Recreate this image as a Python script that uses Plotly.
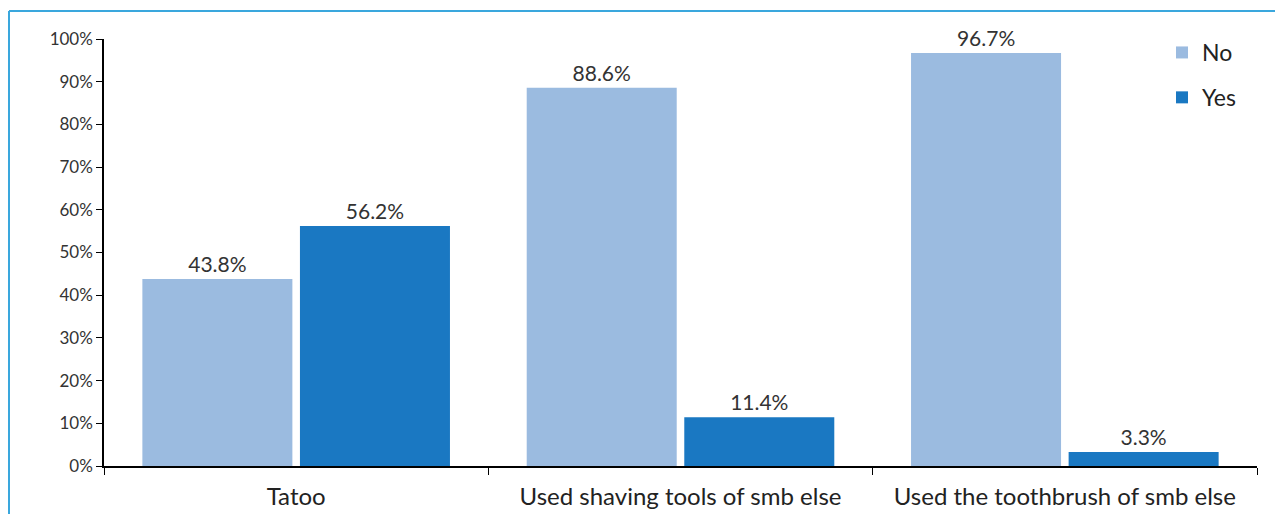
import plotly.graph_objects as go

categories = ["Tatoo", "Used shaving tools of smb else", "Used the toothbrush of smb else"]
no_values = [43.8, 88.6, 96.7]
yes_values = [56.2, 11.4, 3.3]
tick_vals = [0, 10, 20, 30, 40, 50, 60, 70, 80, 90, 100]
tick_text = [f"{v}%" for v in tick_vals]

FONT = "Lato, Open Sans, sans-serif"
OFF = 8  # page body margin
W, H = 1283 - 2 * OFF, 522 - 2 * OFF
# page-pixel positions of the plot area
PL, PR, PT, PB = 104, 1257, 39, 466
ML, MT = PL - OFF, PT - OFF
MR = W - (PR - OFF)
MB = H - (PB - OFF)
PW, PH = W - ML - MR, H - MT - MB

def px_x(px):
    return (px - OFF - ML) / PW

def px_y(py):
    return (H - MB - (py - OFF)) / PH

fig = go.Figure()
fig.add_trace(go.Bar(
    name="No", x=categories, y=no_values, marker=dict(color="#9bbbe0", line=dict(width=0)),
    text=[f"{v:.1f}%" for v in no_values], textposition="outside",
    textfont=dict(size=21, color="#333333", family=FONT), cliponaxis=False,
    legendgroup="a",
))
fig.add_trace(go.Bar(
    name="Yes", x=categories, y=yes_values, marker=dict(color="#1a78c2", line=dict(width=0)),
    text=[f"{v:.1f}%" for v in yes_values], textposition="outside",
    textfont=dict(size=21, color="#333333", family=FONT), cliponaxis=False,
    legendgroup="b",
))

fig.update_layout(
    width=W, height=H,
    margin=dict(l=ML, r=MR, t=MT, b=MB, autoexpand=False),
    paper_bgcolor="white", plot_bgcolor="white",
    barmode="group", bargap=0.18, bargroupgap=0.048,
    font=dict(family=FONT, color="#333333"),
    showlegend=True,
    legend=dict(
        x=px_x(1162), y=px_y(31), xanchor="left", yanchor="top",
        font=dict(size=23, color="#222222", family=FONT),
        traceorder="grouped", tracegroupgap=12,
        itemwidth=30, bgcolor="rgba(0,0,0,0)",
    ),
    xaxis=dict(
        showline=True, linecolor="#000000", linewidth=1.5,
        ticks="outside", tickson="boundaries", ticklen=7, tickcolor="#000000",
        tickfont=dict(size=24, color="#222222", family=FONT),
        ticklabelstandoff=8,
        showgrid=False,
    ),
    yaxis=dict(
        range=[0, 100], tickvals=tick_vals, ticktext=tick_text,
        showline=True, linecolor="#000000", linewidth=1.5,
        ticks="outside", ticklen=6, tickcolor="#000000",
        tickfont=dict(size=17, color="#333333", family=FONT),
        showgrid=False, zeroline=False,
    ),
    shapes=[
        dict(type="line", xref="paper", yref="paper",
             x0=px_x(9), x1=px_x(1300), y0=px_y(11), y1=px_y(11),
             line=dict(color="#3aa7dd", width=2)),
        dict(type="line", xref="paper", yref="paper",
             x0=px_x(9), x1=px_x(9), y0=px_y(11), y1=px_y(540),
             line=dict(color="#3aa7dd", width=2)),
    ],
)

fig.write_html("out.html")
